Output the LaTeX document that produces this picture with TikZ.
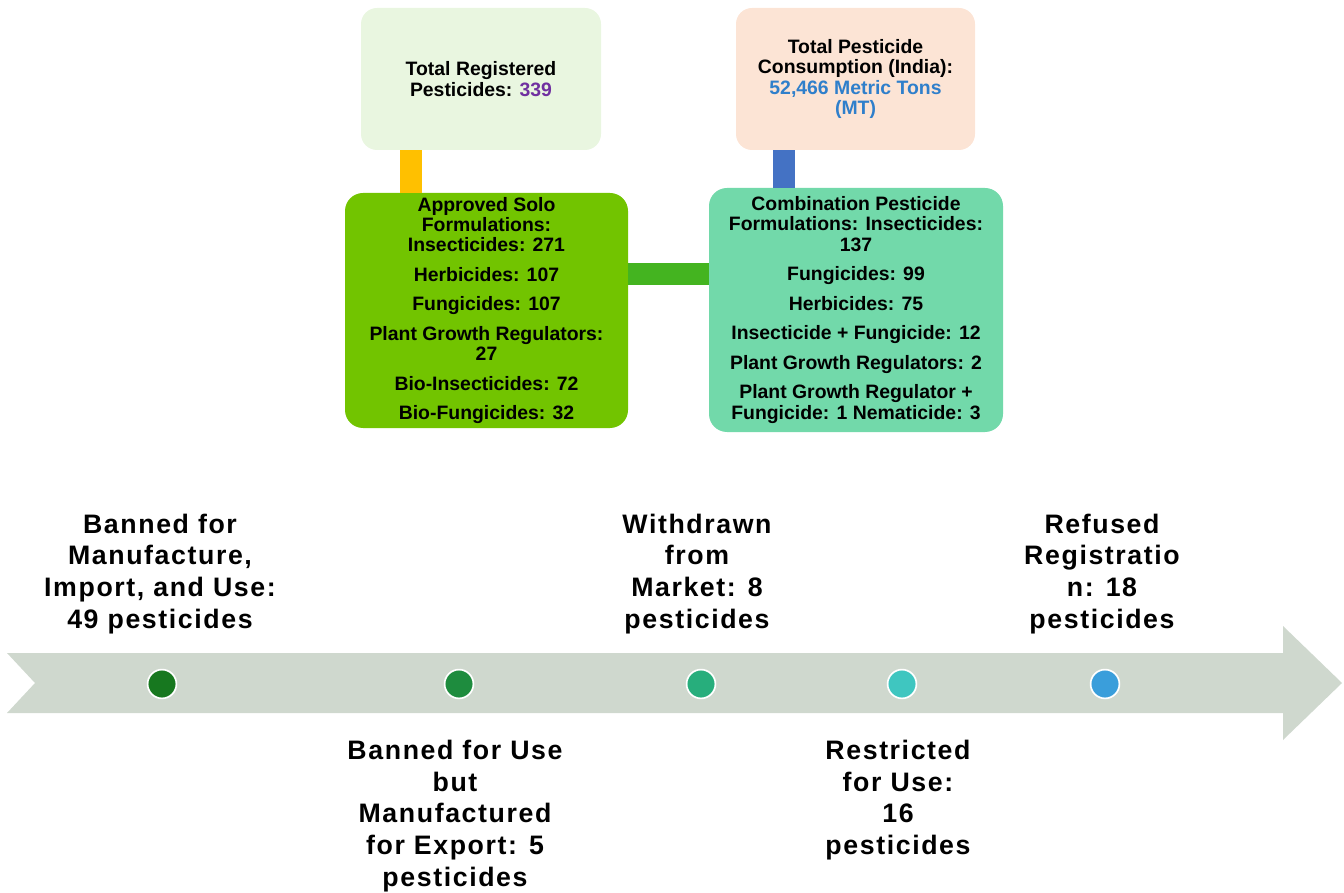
\documentclass[tikz,border=0pt]{standalone}
\usepackage{fontspec}
\setmainfont{Liberation Sans}
\newfontfamily\tlfont[LetterSpace=6]{Liberation Sans}
\usepackage{tikz}
\usetikzlibrary{positioning}

\begin{document}
\begin{tikzpicture}[
  x=1cm,y=1cm,
  box/.style={fill=#1,rounded corners=0.45cm,align=center,inner sep=0pt,font=\fontsize{13.8}{14.5}\selectfont\bfseries},
  bar/.style={line width=0.56cm,draw=#1},
  dot/.style={circle,fill=#1,draw=white,line width=1.2pt,minimum size=0.72cm,inner sep=0pt},
  tl/.style={align=center,inner sep=0pt,font=\tlfont\bfseries\fontsize{19}{22.5}\selectfont},
]
\definecolor{regFill}{HTML}{E9F6E0}
\definecolor{consFill}{HTML}{FCE4D5}
\definecolor{soloFill}{HTML}{72C400}
\definecolor{comboFill}{HTML}{72D9AA}
\definecolor{barOrange}{HTML}{FFC000}
\definecolor{barBlue}{HTML}{4472C4}
\definecolor{barGreen}{HTML}{44B420}
\definecolor{numPurple}{HTML}{7030A0}
\definecolor{numBlue}{HTML}{2F7FCB}
\definecolor{lineFill}{HTML}{CFD8CE}
\definecolor{dotA}{HTML}{17781F}
\definecolor{dotB}{HTML}{1E8C3E}
\definecolor{dotC}{HTML}{27AE7C}
\definecolor{dotD}{HTML}{3FC6C0}
\definecolor{dotE}{HTML}{3A9EDB}

\useasboundingbox (0,0) rectangle (33.6,-22.325);

\node[box=regFill,minimum width=6.0cm,minimum height=3.55cm,rounded corners=0.4cm] (reg) at (12.025,-1.975) {Total Registered\\Pesticides: \textcolor{numPurple}{339}};
\node[box=consFill,minimum width=5.975cm,minimum height=3.55cm,rounded corners=0.4cm] (cons) at (21.3875,-1.975) {Total Pesticide\\Consumption (India):\\\textcolor{numBlue}{52,466 Metric Tons}\\\textcolor{numBlue}{(MT)}};
\node[box=soloFill,minimum width=7.075cm,minimum height=5.875cm] (solo) at (12.1625,-7.7625) {Approved Solo\\Formulations:\\Insecticides: 271\\[6.5pt]Herbicides: 107\\[6.5pt]Fungicides: 107\\[6.5pt]Plant Growth Regulators:\\27\\[6.5pt]Bio-Insecticides: 72\\[6.5pt]Bio-Fungicides: 32};
\node[box=comboFill,minimum width=7.35cm,minimum height=6.1cm] (combo) at (21.4,-7.75) {Combination Pesticide\\Formulations: Insecticides:\\137\\[6.5pt]Fungicides: 99\\[6.5pt]Herbicides: 75\\[6.5pt]Insecticide + Fungicide: 12\\[6.5pt]Plant Growth Regulators: 2\\[6.5pt]Plant Growth Regulator +\\Fungicide: 1 Nematicide: 3};

\coordinate (regLeg) at ([xshift=1.2625cm]reg.south west);
\coordinate (consLeg) at ([xshift=1.2cm]cons.south west);
\coordinate (soloLeg) at ([yshift=0.9125cm]solo.east);
\draw[bar=barOrange] (regLeg) -- (regLeg |- solo.north);
\draw[bar=barBlue] (consLeg) -- (consLeg |- combo.north);
\draw[bar=barGreen] (soloLeg) -- (soloLeg -| combo.west);

\fill[lineFill] (0.175,-16.325) -- (32.075,-16.325) -- (32.075,-15.65) -- (33.55,-17.075) -- (32.075,-18.5) -- (32.075,-17.825) -- (0.175,-17.825) -- (0.875,-17.075) -- cycle;

\node[dot=dotA] (d1) at (4.05,-17.1) {};
\node[dot=dotB] (d2) at (11.475,-17.1) {};
\node[dot=dotC] (d3) at (17.525,-17.1) {};
\node[dot=dotD] (d4) at (22.55,-17.1) {};
\node[dot=dotE] (d5) at (27.625,-17.1) {};

\node[tl,anchor=south] (ban1) at (4.0,-15.85) {Banned for\\Manufacture,\\Import, and Use:\\49 pesticides};
\node[tl,anchor=north] (ban2) at (11.375,-18.5) {Banned for Use\\but\\Manufactured\\for Export: 5\\pesticides};
\node[tl,anchor=south] (wd) at (17.425,-15.85) {Withdrawn\\from\\Market: 8\\pesticides};
\node[tl,anchor=north] (restr) at (22.45,-18.5) {Restricted\\for Use:\\16\\pesticides};
\node[tl,anchor=south] (refu) at (27.55,-15.85) {Refused\\Registratio\\n: 18\\pesticides};
\end{tikzpicture}
\end{document}
